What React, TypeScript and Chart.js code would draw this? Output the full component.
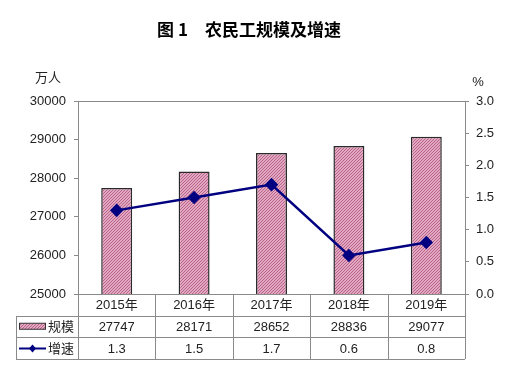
import React, { useEffect, useRef } from "react";
import { Chart, registerables } from "chart.js";

Chart.register(...registerables);

const years = ["2015年", "2016年", "2017年", "2018年", "2019年"];
const scaleValues = [27747, 28171, 28652, 28836, 29077];
const growthValues = [1.3, 1.5, 1.7, 0.6, 0.8];
const scaleLabel = "规模";
const growthLabel = "增速";
const titleText = "图 1　农民工规模及增速";
const leftUnit = "万人";
const rightUnit = "%";

const FONT = "'Liberation Sans', Arial, 'Noto Sans CJK SC', sans-serif";

function makePattern(): CanvasPattern | string {
  const c = document.createElement("canvas");
  c.width = 3;
  c.height = 3;
  const g = c.getContext("2d");
  if (!g) return "#cc88a8";
  g.fillStyle = "#e2a8c2";
  g.fillRect(0, 0, 3, 3);
  g.fillStyle = "#b8648a";
  for (let i = 0; i < 3; i++) {
    g.fillRect(i, 2 - i, 1, 1);
  }
  const p = g.createPattern(c, "repeat");
  return p || "#cc88a8";
}

export default function App() {
  const ref = useRef<HTMLCanvasElement | null>(null);

  useEffect(() => {
    if (!ref.current) return;
    const pattern = makePattern();

    const decor = {
      id: "decor",
      afterDraw(chart: any) {
        const ctx = chart.ctx as CanvasRenderingContext2D;
        const area = chart.chartArea;
        const xs = chart.scales.x;
        ctx.save();
        // title
        ctx.fillStyle = "#000";
        ctx.font = "bold 17px 'Noto Sans CJK SC', serif";
        ctx.textAlign = "center";
        ctx.textBaseline = "middle";
        ctx.fillText(titleText, 249, 30);
        // units
        ctx.font = "13px " + FONT;
        ctx.fillStyle = "#222";
        ctx.fillText(leftUnit, 48, 78);
        ctx.fillText(rightUnit, 478, 82);
        // plot border top
        ctx.strokeStyle = "#8a8a8a";
        ctx.lineWidth = 1;
        ctx.beginPath();
        ctx.moveTo(area.left, area.top + 0.5);
        ctx.lineTo(area.right, area.top + 0.5);
        ctx.stroke();

        // table
        const n = years.length;
        const step = (area.right - area.left) / n;
        const edges: number[] = [];
        for (let i = 0; i <= n; i++) edges.push(area.left + step * i);
        const legendLeft = 16;
        const r0 = area.bottom;
        const rows = [r0, r0 + 21.5, r0 + 43, r0 + 65];
        ctx.strokeStyle = "#8a8a8a";
        ctx.beginPath();
        ctx.moveTo(area.left, rows[0] + 0.5);
        ctx.lineTo(area.right, rows[0] + 0.5);
        for (let r = 1; r < rows.length; r++) {
          ctx.moveTo(legendLeft, Math.round(rows[r]) + 0.5);
          ctx.lineTo(area.right, Math.round(rows[r]) + 0.5);
        }
        for (let i = 0; i <= n; i++) {
          const x = Math.round(edges[i]) + 0.5;
          ctx.moveTo(x, rows[0]);
          ctx.lineTo(x, Math.round(rows[3]));
        }
        ctx.moveTo(legendLeft + 0.5, Math.round(rows[1]));
        ctx.lineTo(legendLeft + 0.5, Math.round(rows[3]));
        ctx.stroke();

        ctx.fillStyle = "#222";
        ctx.font = "13px " + FONT;
        ctx.textAlign = "center";
        ctx.textBaseline = "middle";
        for (let i = 0; i < n; i++) {
          const cx = xs.getPixelForValue(i);
          ctx.fillText(years[i], cx, (rows[0] + rows[1]) / 2 + 1);
          ctx.fillText(String(scaleValues[i]), cx, (rows[1] + rows[2]) / 2 + 1);
          ctx.fillText(growthValues[i].toFixed(1), cx, (rows[2] + rows[3]) / 2 + 1);
        }
        // legend cells
        const y1 = (rows[1] + rows[2]) / 2;
        const y2 = (rows[2] + rows[3]) / 2;
        ctx.fillStyle = pattern as any;
        ctx.fillRect(19, y1 - 3, 27, 6);
        ctx.strokeStyle = "#333";
        ctx.lineWidth = 1;
        ctx.strokeRect(19.5, y1 - 3, 26, 6);
        ctx.fillStyle = "#222";
        ctx.textAlign = "left";
        ctx.fillText(scaleLabel, 48, y1 + 1);
        ctx.fillText(growthLabel, 48, y2 + 1);
        ctx.strokeStyle = "#000080";
        ctx.lineWidth = 2;
        ctx.beginPath();
        ctx.moveTo(19, y2 + 0.5);
        ctx.lineTo(46, y2 + 0.5);
        ctx.stroke();
        ctx.fillStyle = "#000080";
        ctx.beginPath();
        ctx.moveTo(32.5, y2 - 3.5);
        ctx.lineTo(36, y2 + 0.5);
        ctx.lineTo(32.5, y2 + 4.5);
        ctx.lineTo(29, y2 + 0.5);
        ctx.closePath();
        ctx.fill();
        ctx.restore();
      },
    };

    const chart = new Chart(ref.current, {
      type: "bar",
      data: {
        labels: years,
        datasets: [
          {
            type: "line",
            label: growthLabel,
            data: growthValues,
            yAxisID: "y1",
            borderColor: "#000080",
            backgroundColor: "#000080",
            borderWidth: 2.5,
            pointStyle: "rectRot",
            pointRadius: 5,
            pointBackgroundColor: "#000080",
            pointBorderColor: "#000080",
            tension: 0,
            order: 0,
          } as any,
          {
            type: "bar",
            label: scaleLabel,
            data: scaleValues,
            yAxisID: "y",
            backgroundColor: pattern as any,
            borderColor: "#2a2a2a",
            borderWidth: 1.5,
            barPercentage: 0.4,
            categoryPercentage: 1,
            order: 1,
          } as any,
        ],
      },
      options: {
        animation: false,
        responsive: true,
        maintainAspectRatio: false,
        layout: { padding: { top: 101, bottom: 85, left: 0, right: 0 } },
        plugins: {
          legend: { display: false },
          tooltip: { enabled: false },
          title: { display: false },
        },
        scales: {
          x: {
            display: false,
            offset: true,
          },
          y: {
            position: "left",
            min: 25000,
            max: 30000,
            ticks: {
              stepSize: 1000,
              color: "#222",
              padding: 8,
              font: { size: 13, family: FONT },
              callback: (v: any) => String(v),
            },
            grid: {
              drawOnChartArea: false,
              drawTicks: true,
              tickLength: 4,
              color: "#8a8a8a",
            },
            border: { display: true, color: "#8a8a8a" },
            afterFit(scale: any) {
              scale.width = 78;
            },
          },
          y1: {
            position: "right",
            min: 0,
            max: 3,
            ticks: {
              stepSize: 0.5,
              color: "#222",
              padding: 7,
              font: { size: 13, family: FONT },
              callback: (v: any) => Number(v).toFixed(1),
            },
            grid: {
              drawOnChartArea: false,
              drawTicks: true,
              tickLength: 4,
              color: "#8a8a8a",
            },
            border: { display: true, color: "#8a8a8a" },
            afterFit(scale: any) {
              scale.width = 47;
            },
          },
        },
      },
      plugins: [decor],
    });
    return () => chart.destroy();
  }, []);

  return (
    <div style={{ position: "absolute", left: 0, top: 0, width: 512, height: 379, background: "#fff" }}>
      <canvas ref={ref} />
    </div>
  );
}
